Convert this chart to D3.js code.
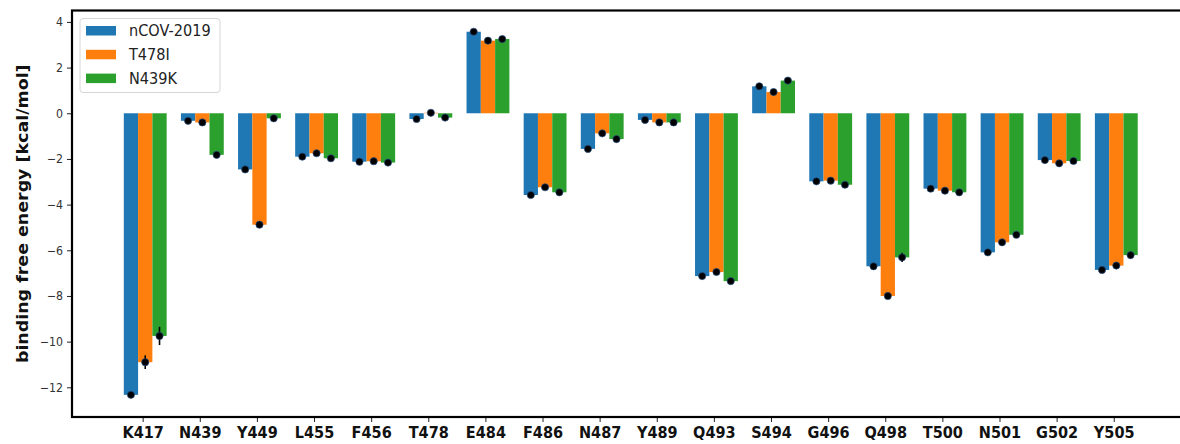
<!DOCTYPE html>
<html>
<head>
<meta charset="utf-8">
<script src="https://cdn.jsdelivr.net/npm/d3@7/dist/d3.min.js"></script>
<style>
  html, body { margin: 0; padding: 0; background: #fff; }
  svg { display: block; }
  text { font-family: "DejaVu Sans", sans-serif; }
</style>
</head>
<body>
<svg id="chart" width="1180" height="444"></svg>
<script>
// Residues along the interface
const residues = ["K417", "N439", "Y449", "L455", "F456", "T478", "E484", "F486", "N487",
                  "Y489", "Q493", "S494", "G496", "Q498", "T500", "N501", "G502", "Y505"];

// Per-residue binding free energy (kcal/mol) for each variant
const seriesNames = ["nCOV-2019", "T478I", "N439K"];
const ncov  = [-12.33, -0.33, -2.46, -1.90, -2.12, -0.25, 3.57, -3.58, -1.56, -0.29, -7.13, 1.18, -2.98, -6.70, -3.30, -6.09, -2.05, -6.86];
const t478i = [-10.90, -0.40, -4.88, -1.75, -2.10,  0.02, 3.18, -3.24, -0.88, -0.40, -6.95, 0.93, -2.95, -8.00, -3.39, -5.65, -2.19, -6.67];
const n439k = [ -9.75, -1.82, -0.22, -1.97, -2.16, -0.19, 3.25, -3.46, -1.13, -0.40, -7.35, 1.43, -3.13, -6.31, -3.46, -5.32, -2.09, -6.21];

// Standard errors
const ncovErr  = [0.12, 0.05, 0.06, 0.06, 0.06, 0.05, 0.06, 0.08, 0.06, 0.05, 0.06, 0.06, 0.06, 0.08, 0.06, 0.08, 0.06, 0.06];
const t478iErr = [0.30, 0.06, 0.08, 0.06, 0.06, 0.05, 0.12, 0.08, 0.06, 0.05, 0.08, 0.06, 0.06, 0.08, 0.06, 0.08, 0.06, 0.08];
const n439kErr = [0.40, 0.08, 0.06, 0.08, 0.06, 0.05, 0.10, 0.08, 0.06, 0.05, 0.08, 0.06, 0.08, 0.20, 0.06, 0.08, 0.06, 0.15];

const yTicks = [-12, -10, -8, -6, -4, -2, 0, 2, 4];
const colors = ["#1f77b4", "#ff7f0e", "#2ca02c"];

const series = [
  { name: seriesNames[0], values: ncov,  errs: ncovErr,  color: colors[0], offset: -1 },
  { name: seriesNames[1], values: t478i, errs: t478iErr, color: colors[1], offset: 0 },
  { name: seriesNames[2], values: n439k, errs: n439kErr, color: colors[2], offset: 1 }
];

const svg = d3.select("#chart");
const plot = { left: 72, right: 1188, top: 10.5, bottom: 417 };
const barW = 0.25;     // bar width in category units
const shift = 0.045;   // group shift relative to the tick
const stretch = 1.09;  // vertical text stretch

const x = d3.scaleLinear().domain([-1.237, 18.3]).range([plot.left, plot.right]);
const y = d3.scaleLinear().domain([-13.3, 4.5]).range([plot.bottom, plot.top]);

const barLeft = (i, s) => x(i + shift + s.offset * barW - barW / 2);
const barRight = (i, s) => x(i + shift + s.offset * barW + barW / 2);

// Bars
series.forEach(s => {
  svg.append("g").selectAll("rect")
    .data(s.values)
    .join("rect")
    .attr("x", (d, i) => barLeft(i, s))
    .attr("width", (d, i) => barRight(i, s) - barLeft(i, s))
    .attr("y", d => y(Math.max(0, d)))
    .attr("height", d => Math.abs(y(d) - y(0)))
    .attr("fill", s.color);
});

// Error bars and markers
series.forEach(s => {
  const g = svg.append("g");
  s.values.forEach((v, i) => {
    const cx = x(i + shift + s.offset * barW);
    g.append("line")
      .attr("x1", cx).attr("x2", cx)
      .attr("y1", y(v - s.errs[i])).attr("y2", y(v + s.errs[i]))
      .attr("stroke", "#000").attr("stroke-width", 1.6);
    g.append("circle")
      .attr("cx", cx).attr("cy", y(v)).attr("r", 3.6)
      .attr("fill", "#000")
      .attr("stroke", "#2a4f80").attr("stroke-width", 0.7);
  });
});

// Y axis ticks and labels
const yAxis = svg.append("g")
  .attr("transform", `translate(${plot.left},0)`)
  .call(d3.axisLeft(y).tickValues(yTicks).tickSize(5).tickPadding(4).tickFormat(d3.format("d")));
yAxis.select(".domain").remove();
yAxis.selectAll(".tick line").attr("stroke", "#222").attr("stroke-width", 1);
yAxis.selectAll(".tick text")
  .attr("font-size", 11)
  .attr("fill", "#333")
  .attr("transform", `scale(1,${stretch})`);

// X axis ticks and labels
const xAxis = svg.append("g")
  .attr("transform", `translate(0,${plot.bottom})`)
  .call(d3.axisBottom(x).tickValues(d3.range(residues.length)).tickSize(5).tickPadding(4)
    .tickFormat(i => residues[i]));
xAxis.select(".domain").remove();
xAxis.selectAll(".tick line").attr("stroke", "#222").attr("stroke-width", 1);
xAxis.selectAll(".tick text")
  .attr("font-size", 14.5)
  .attr("font-weight", "bold")
  .attr("fill", "#111")
  .attr("transform", `scale(1,${stretch})`);

// Frame
svg.append("rect")
  .attr("x", plot.left).attr("y", plot.top)
  .attr("width", plot.right - plot.left).attr("height", plot.bottom - plot.top)
  .attr("fill", "none").attr("stroke", "#000").attr("stroke-width", 2.2);

// Y axis title
svg.append("text")
  .attr("transform", `translate(28,${(plot.top + plot.bottom) / 2}) scale(1,${stretch}) rotate(-90)`)
  .attr("text-anchor", "middle")
  .attr("font-size", 16)
  .attr("font-weight", "bold")
  .attr("fill", "#111")
  .text("binding free energy [kcal/mol]");

// Legend
const legend = svg.append("g");
legend.append("rect")
  .attr("x", 80).attr("y", 18.5).attr("width", 140).attr("height", 74)
  .attr("rx", 3).attr("fill", "#fff").attr("fill-opacity", 0.85)
  .attr("stroke", "#d6d6d6").attr("stroke-width", 1);
series.forEach((s, k) => {
  const cy = 30.5 + k * 23.8;
  legend.append("rect")
    .attr("x", 86).attr("y", cy - 4.5).attr("width", 30).attr("height", 9.5)
    .attr("fill", s.color);
  legend.append("text")
    .attr("transform", `translate(129,${cy}) scale(1,${stretch})`)
    .attr("dy", "0.36em")
    .attr("font-size", 14.5)
    .attr("fill", "#222")
    .text(s.name);
});
</script>
</body>
</html>
